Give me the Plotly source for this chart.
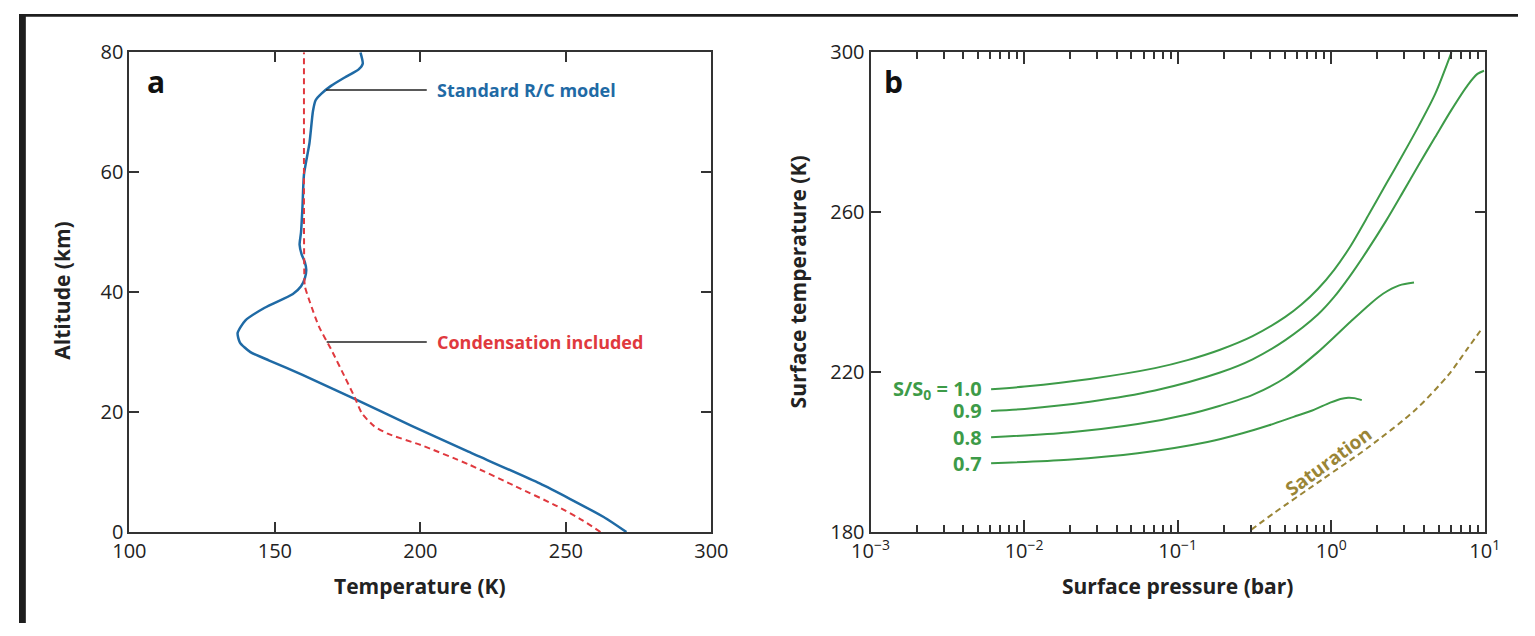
import math
import plotly.graph_objects as go

W, H = 1535, 636

# ---- Panel a: vertical temperature profiles ----
alt_rc = [0, 2.5, 5.5, 8.1, 13.4, 17.7, 22.2, 26.2, 28.6, 30.0, 31.6, 33.2, 35.3, 37.4,
          39.7, 41.0, 42.3, 43.7, 45.0, 46.3, 47.9, 50.0, 54.3, 59.6, 64.9, 70.2,
          72.0, 73.1, 74.4, 75.8, 77.1, 78.1, 80.0]
temp_rc = [270.8, 263.0, 251.5, 241.0, 216.5, 197.0, 177.4, 159.5, 148.1, 141.6, 138.0, 137.2,
           139.9, 146.5, 156.2, 159.0, 160.3, 160.8, 160.3, 159.2, 158.5, 159.0, 159.5,
           160.0, 161.9, 163.1, 164.0, 166.0, 169.3, 174.0, 178.7, 180.2, 179.4]

alt_cond = [0, 2.0, 4.5, 7.6, 11.3, 14.5, 16.4, 17.7, 19.8, 22.5, 25.7, 30.5, 34.2, 38.4,
            41.0, 43.7, 54.3, 64.9, 80.0]
temp_cond = [261.9, 255.6, 246.2, 232.8, 216.5, 200.2, 188.8, 184.0, 179.9, 177.4, 174.2,
             169.3, 165.2, 162.0, 160.3, 160.1, 160.0, 160.0, 160.0]

# ---- Panel b: surface temperature vs surface pressure (bar) ----
p_10 = [0.006095, 0.01007, 0.02679, 0.07112, 0.1159, 0.1888, 0.3076, 0.5023, 0.6397,
        0.8185, 1.045, 1.334, 1.786, 2.280, 2.917, 3.715, 4.753, 6.067]
t_10 = [215.7, 216.4, 218.3, 221.0, 223.0, 225.6, 229.0, 233.8, 236.9,
        240.8, 245.6, 251.5, 259.9, 267.1, 274.3, 281.6, 289.6, 300.0]

p_09 = [0.006095, 0.01007, 0.02679, 0.07112, 0.1888, 0.3076, 0.5023, 0.8185, 1.045,
        1.334, 1.702, 2.280, 2.917, 3.715, 4.753, 6.067, 7.745, 8.954, 9.886]
t_09 = [210.3, 210.8, 212.6, 215.4, 219.9, 223.2, 228.0, 234.4, 238.8,
        244.2, 250.2, 257.9, 264.9, 271.9, 278.8, 285.6, 291.8, 294.6, 295.4]

p_08 = [0.006095, 0.01928, 0.05495, 0.1159, 0.1888, 0.3076, 0.5023, 0.8185, 1.334,
        1.786, 2.173, 2.773, 3.459]
t_08 = [203.7, 204.9, 207.0, 209.4, 211.6, 214.3, 218.6, 225.0, 232.6,
        237.0, 239.6, 241.7, 242.4]

p_07 = [0.006095, 0.01928, 0.05495, 0.1563, 0.2642, 0.3936, 0.5689, 0.7516, 0.9772,
        1.148, 1.288, 1.413, 1.581]
t_07 = [197.2, 198.1, 199.7, 202.5, 204.7, 206.7, 208.8, 210.4, 212.3,
        213.3, 213.6, 213.5, 213.0]

p_sat = [0.3020, 0.4256, 0.8630, 1.746, 3.540, 5.794, 7.691, 9.705]
t_sat = [180.6, 184.8, 193.0, 201.2, 210.6, 219.3, 225.8, 231.2]

flux_labels = ["S/S<sub>0</sub> = 1.0", "0.9", "0.8", "0.7"]

BLUE = "#1f6aa5"
RED = "#e0393e"
GREEN = "#3d9b48"
OLIVE = "#9a8536"
AXIS = "#333333"
TEXT = "#222222"
FONT = "Open Sans"

fig = go.Figure()

fig.add_trace(go.Scatter(x=temp_rc, y=alt_rc, mode="lines",
                         line=dict(color=BLUE, width=2.5, shape="spline", smoothing=0.6),
                         xaxis="x", yaxis="y", hoverinfo="skip"))
fig.add_trace(go.Scatter(x=temp_cond, y=alt_cond, mode="lines",
                         line=dict(color=RED, width=2, dash="6px,4px", shape="spline", smoothing=0.6),
                         xaxis="x", yaxis="y", hoverinfo="skip"))

for px_, tx_ in [(p_10, t_10), (p_09, t_09), (p_08, t_08), (p_07, t_07)]:
    fig.add_trace(go.Scatter(x=px_, y=tx_, mode="lines",
                             line=dict(color=GREEN, width=2, shape="spline", smoothing=0.8),
                             xaxis="x2", yaxis="y2", hoverinfo="skip"))
fig.add_trace(go.Scatter(x=p_sat, y=t_sat, mode="lines",
                         line=dict(color=OLIVE, width=2, dash="6px,4px", shape="spline", smoothing=0.8),
                         xaxis="x2", yaxis="y2", hoverinfo="skip"))


def px(x):
    return x / W


def py(y):
    return 1 - y / H


common = dict(showline=True, linecolor=AXIS, linewidth=2, mirror="ticks", ticks="inside",
              tickwidth=2, tickcolor=AXIS, showgrid=False, zeroline=False,
              tickfont=dict(family=FONT, size=20, color=TEXT))

minor_vals = [k * 10.0 ** e for e in range(-3, 1) for k in range(2, 10)]

fig.update_layout(
    width=W, height=H, autosize=False,
    margin=dict(l=0, r=0, t=0, b=0),
    paper_bgcolor="white", plot_bgcolor="white",
    showlegend=False,
    xaxis=dict(domain=[px(113), px(709)], range=[100, 300], tickvals=[100, 150, 200, 250, 300],
               anchor="y", ticklen=10, **common),
    yaxis=dict(domain=[py(541), py(40)], range=[0, 80], tickvals=[0, 20, 40, 60, 80],
               anchor="x", ticklen=10, **common),
    xaxis2=dict(domain=[px(872), px(1501)], type="log", range=[-3, 1],
                tickvals=[0.001, 0.01, 0.1, 1, 10],
                ticktext=["10<sup>\u22123</sup>", "10<sup>\u22122</sup>", "10<sup>\u22121</sup>",
                          "10<sup>0</sup>", "10<sup>1</sup>"],
                minor=dict(tickvals=minor_vals, ticks="inside", ticklen=7, tickwidth=1.5,
                           tickcolor=AXIS),
                anchor="y2", ticklen=12, **common),
    yaxis2=dict(domain=[py(541), py(40)], range=[180, 300], tickvals=[180, 220, 260, 300],
                anchor="x2", ticklen=10, **common),
)

# dark frame along the top and left edges
fig.add_shape(type="rect", xref="paper", yref="paper", x0=0, x1=px(7), y0=0, y1=1,
              fillcolor="#1e1e1e", line=dict(width=0), layer="above")
fig.add_shape(type="rect", xref="paper", yref="paper", x0=0, x1=1, y0=py(3), y1=1,
              fillcolor="#1e1e1e", line=dict(width=0), layer="above")

# leader lines for the profile labels
fig.add_shape(type="line", xref="x", yref="y", x0=167.6, x1=202.2, y0=73.7, y1=73.7,
              line=dict(color=TEXT, width=1.5))
fig.add_shape(type="line", xref="x", yref="y", x0=167.8, x1=202.2, y0=31.7, y1=31.7,
              line=dict(color=TEXT, width=1.5))

ann = []
ann.append(dict(xref="x", yref="y", x=205.1, y=73.7, xanchor="left", yanchor="middle",
                text="Standard R/C model", showarrow=False,
                font=dict(family=FONT, size=18, color=BLUE, weight="bold")))
ann.append(dict(xref="x", yref="y", x=205.1, y=31.7, xanchor="left", yanchor="middle",
                text="Condensation included", showarrow=False,
                font=dict(family=FONT, size=18, color=RED, weight="bold")))

# panel letters
ann.append(dict(xref="paper", yref="paper", x=px(129), y=py(71), xanchor="left", yanchor="middle",
                text="a", showarrow=False, font=dict(family=FONT, size=30, color="#111", weight="bold")))
ann.append(dict(xref="paper", yref="paper", x=px(884), y=py(71), xanchor="left", yanchor="middle",
                text="b", showarrow=False, font=dict(family=FONT, size=30, color="#111", weight="bold")))

# axis titles
title_font = dict(family=FONT, size=21, color=TEXT, weight="bold")
ann.append(dict(xref="paper", yref="paper", x=px(411), y=py(597), xanchor="center", yanchor="middle",
                text="Temperature (K)", showarrow=False, font=title_font))
ann.append(dict(xref="paper", yref="paper", x=px(1186), y=py(597), xanchor="center", yanchor="middle",
                text="Surface pressure (bar)", showarrow=False, font=title_font))
ann.append(dict(xref="paper", yref="paper", x=px(44), y=py(289), xanchor="center", yanchor="middle",
                text="Altitude (km)", textangle=-90, showarrow=False, font=title_font))
ann.append(dict(xref="paper", yref="paper", x=px(798), y=py(280), xanchor="center", yanchor="middle",
                text="Surface temperature (K)", textangle=-90, showarrow=False, font=title_font))

# flux labels at the start of each curve (annotation x on a log axis is log10)
for lab, tx_ in zip(flux_labels, [t_10, t_09, t_08, t_07]):
    ann.append(dict(xref="x2", yref="y2", x=math.log10(p_10[0]) - 0.045, y=tx_[0], xanchor="right",
                    yanchor="middle", text=lab, showarrow=False,
                    font=dict(family=FONT, size=20, color=GREEN, weight="bold")))

ann.append(dict(xref="x2", yref="y2", x=-0.015, y=197.7, xanchor="center", yanchor="middle",
                text="Saturation", textangle=-36, showarrow=False,
                font=dict(family=FONT, size=19, color=OLIVE, weight="bold")))

fig.update_layout(annotations=ann)

fig.write_html("out.html")
